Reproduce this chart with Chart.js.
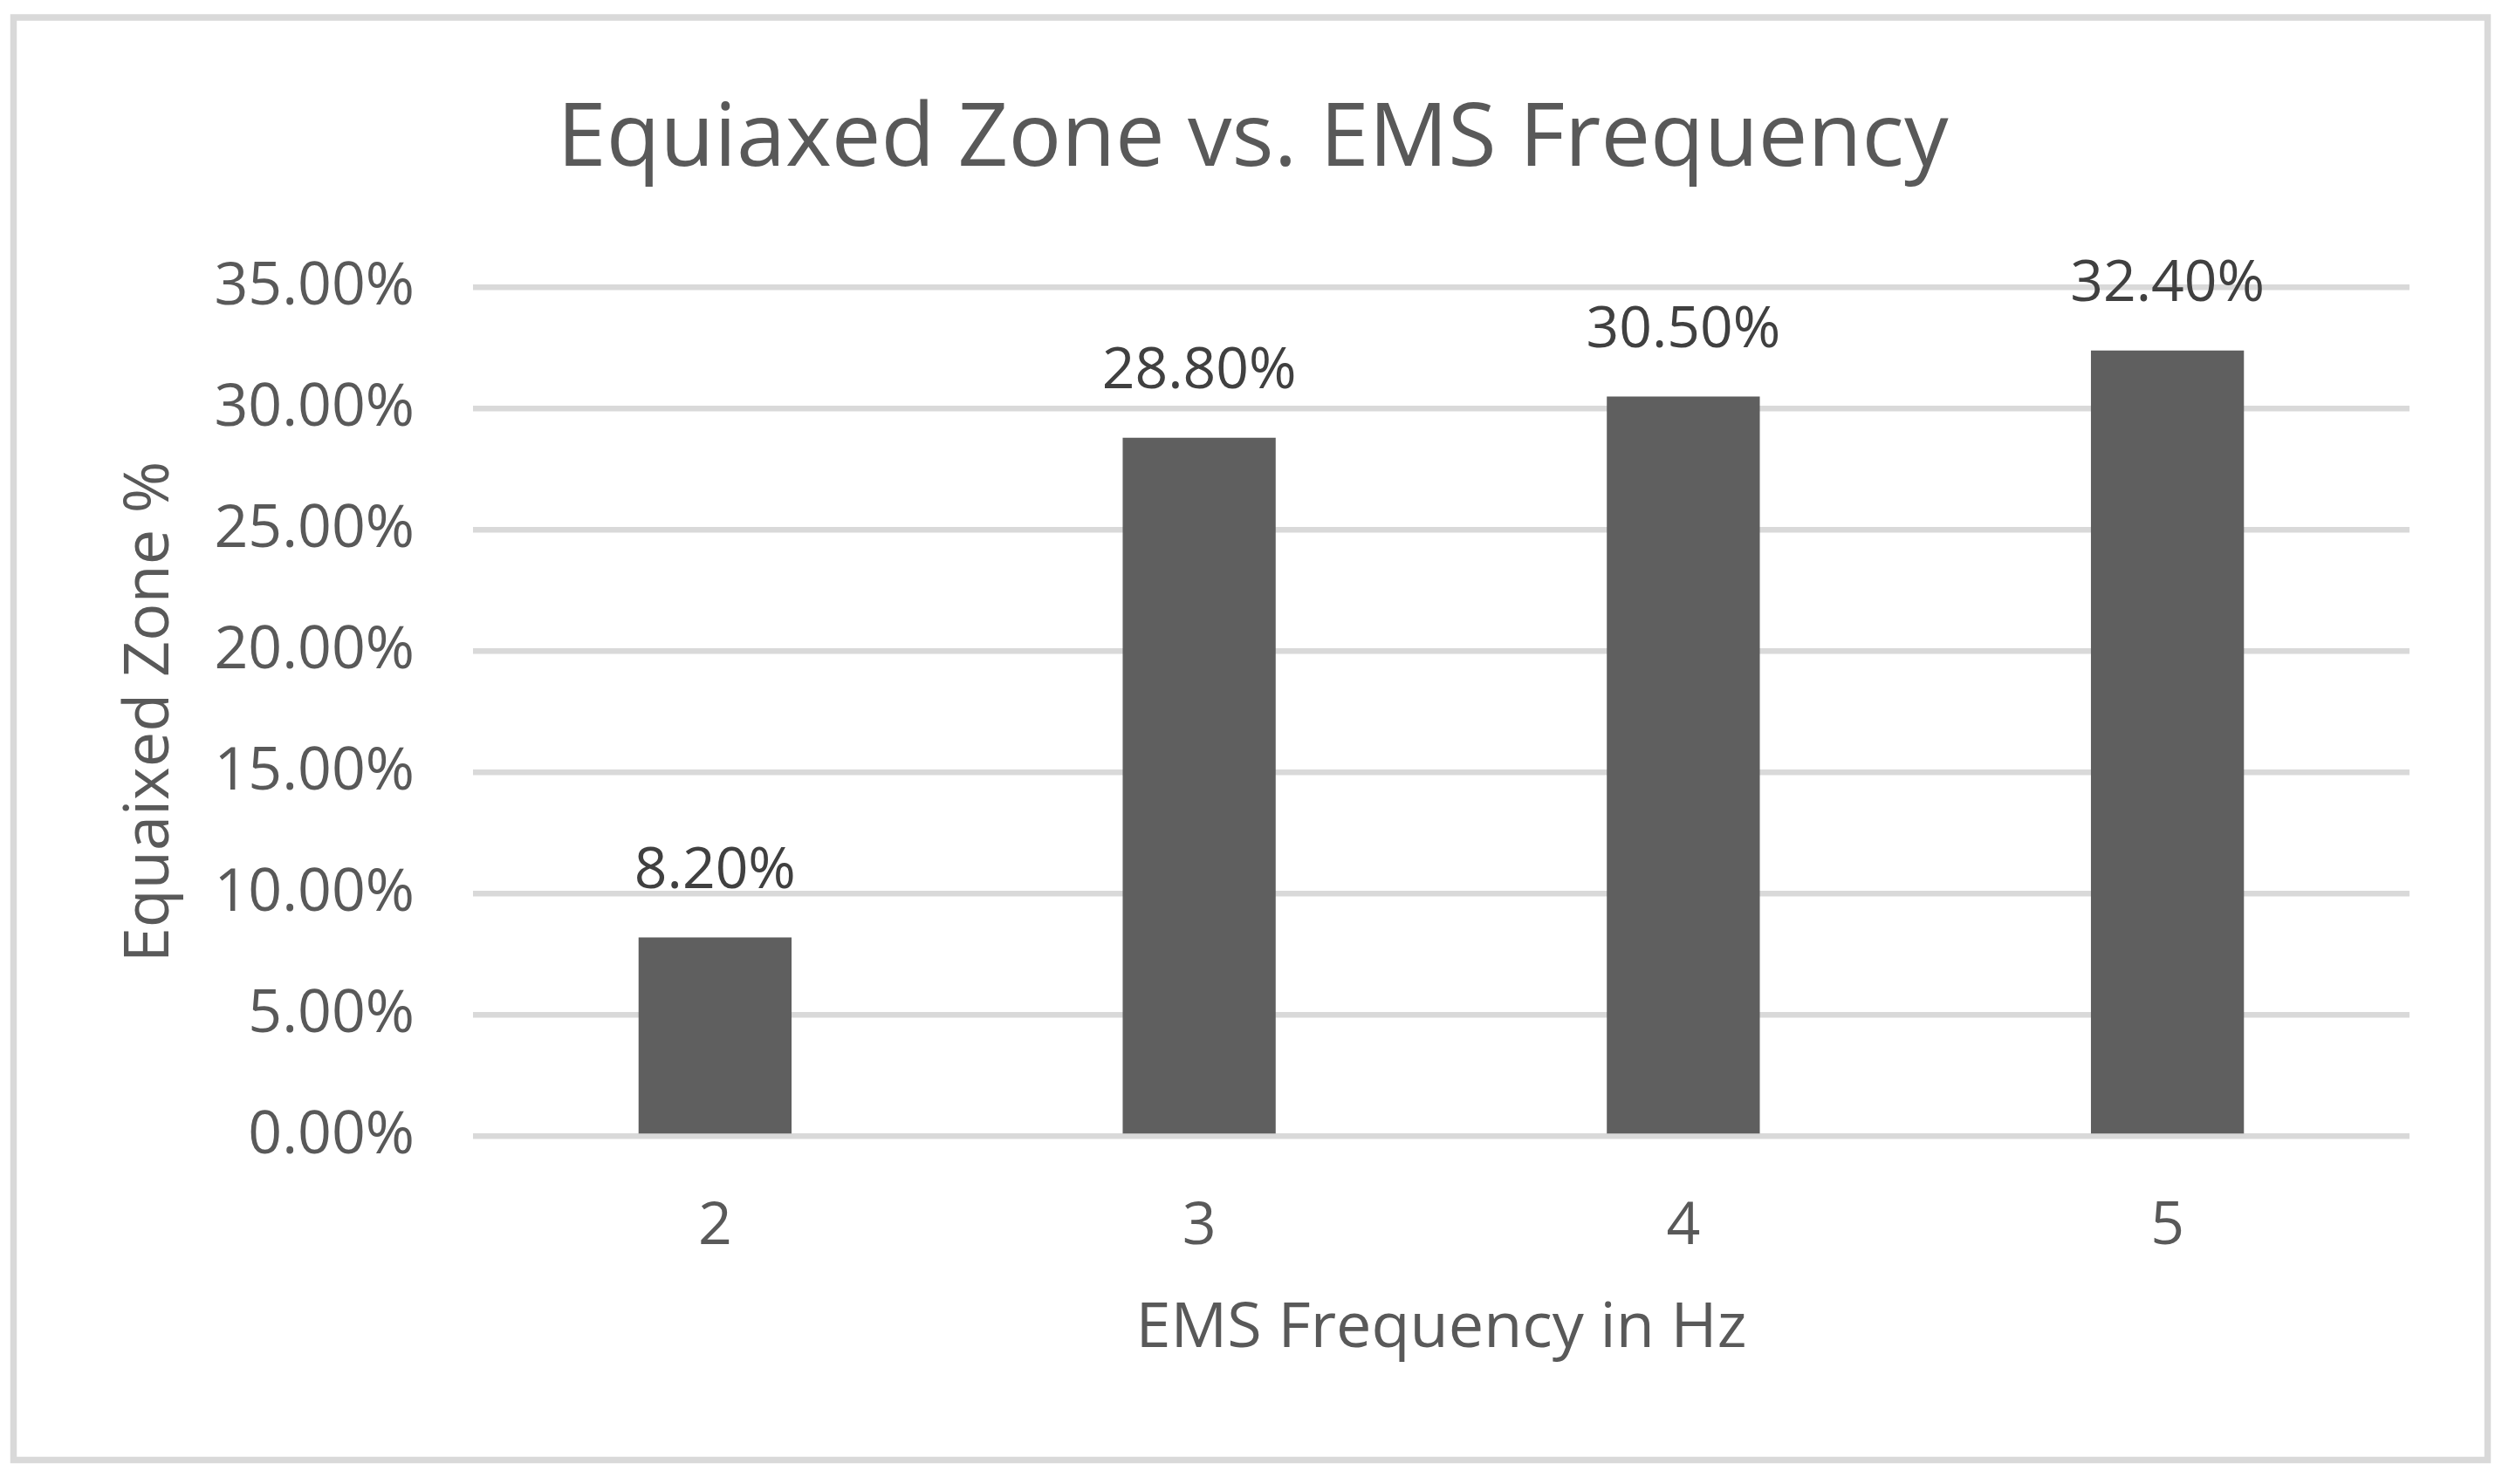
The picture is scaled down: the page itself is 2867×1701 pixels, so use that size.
<!DOCTYPE html>
<html>
<head>
<meta charset="utf-8">
<script src="https://cdn.jsdelivr.net/npm/chart.js@4.4.1/dist/chart.umd.min.js"></script>
<style>
  html, body { margin: 0; padding: 0; background: #ffffff; }
  canvas { display: block; }
</style>
</head>
<body>
<canvas id="emsChart" width="2867" height="1701" style="width:2867px;height:1701px"></canvas>
<script>
// Chart data
const frequencies = ['2', '3', '4', '5'];
const equiaxedZone = [8.2, 28.8, 30.5, 32.4];
const yTicks = [0, 5, 10, 15, 20, 25, 30, 35];

const FONT = "'Open Sans', 'Noto Sans', sans-serif";
const textGrey = '#595959';
const gridGrey = '#d9d9d9';

// outer frame like the Excel chart area
const framePlugin = {
    id: 'frame',
    beforeDraw(chart) {
        const c = chart.ctx;
        c.save();
        c.fillStyle = '#ffffff';
        c.fillRect(0, 0, chart.width, chart.height);
        c.strokeStyle = gridGrey;
        c.lineWidth = 7.5;
        c.strokeRect(15.5, 20, 2850.5 - 15.5, 1673.5 - 20);
        c.restore();
    }
};

// value labels above bars
const labelPlugin = {
    id: 'barLabels',
    afterDatasetsDraw(chart) {
        const c = chart.ctx;
        const meta = chart.getDatasetMeta(0);
        c.save();
        c.font = '66px ' + FONT;
        c.fillStyle = '#404040';
        c.textAlign = 'center';
        c.textBaseline = 'alphabetic';
        meta.data.forEach((bar, i) => {
            c.fillText(equiaxedZone[i].toFixed(2) + '%', bar.x, bar.y - 57);
        });
        c.restore();
    }
};

new Chart(document.getElementById('emsChart'), {
    type: 'bar',
    data: {
        labels: frequencies,
        datasets: [{
            data: equiaxedZone,
            backgroundColor: '#5f5f5f',
            borderWidth: 0,
            barPercentage: 0.395,
            categoryPercentage: 0.8
        }]
    },
    options: {
        responsive: false,
        devicePixelRatio: 1,
        animation: false,
        layout: {
            padding: { left: 110, right: 106, top: 0, bottom: 98.5 }
        },
        plugins: {
            legend: { display: false },
            tooltip: { enabled: false },
            title: {
                display: true,
                text: 'Equiaxed Zone vs. EMS Frequency',
                color: textGrey,
                font: { family: FONT, size: 101, weight: 'normal' },
                padding: { top: 101, bottom: 107.3 }
            }
        },
        scales: {
            x: {
                grid: { display: false },
                border: { display: false },
                ticks: {
                    color: textGrey,
                    font: { family: FONT, size: 68 },
                    padding: 55
                },
                title: {
                    display: true,
                    text: 'EMS Frequency in Hz',
                    color: textGrey,
                    font: { family: FONT, size: 72 },
                    padding: { top: 0, bottom: 36 }
                },
                afterFit(scale) { scale.height = 300; }
            },
            y: {
                min: 0,
                max: 35,
                afterBuildTicks(scale) {
                    scale.ticks = yTicks.map(v => ({ value: v }));
                },
                grid: {
                    color: gridGrey,
                    lineWidth: 6.5,
                    drawTicks: false
                },
                border: { display: false },
                ticks: {
                    color: textGrey,
                    font: { family: FONT, size: 68 },
                    padding: 67,
                    callback: v => v.toFixed(2) + '%'
                },
                title: {
                    display: true,
                    text: 'Equaixed Zone %',
                    color: textGrey,
                    font: { family: FONT, size: 72 },
                    padding: { top: 19, bottom: 0 }
                },
                afterFit(scale) { scale.width = 432; }
            }
        }
    },
    plugins: [framePlugin, labelPlugin]
});
</script>
</body>
</html>
